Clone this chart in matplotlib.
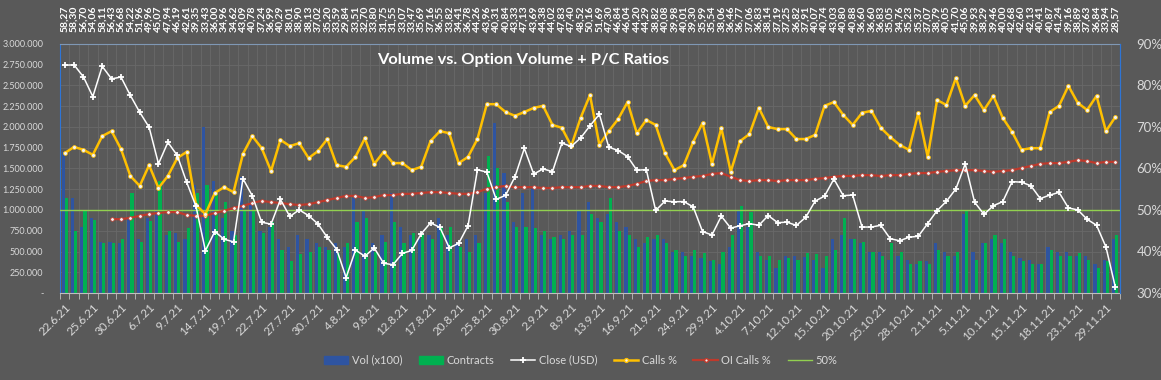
import numpy as np
import matplotlib
matplotlib.use("Agg")
import matplotlib.pyplot as plt
from matplotlib.ticker import FuncFormatter, FixedLocator
from matplotlib.lines import Line2D
from matplotlib.patches import Patch

plt.rcParams["font.family"] = ["Lato", "DejaVu Sans"]

# ---------------- data ----------------
close = [58.27, 58.30, 56.70, 54.06, 58.11, 56.43, 56.68, 54.22, 51.96, 49.96,
         45.07, 47.94, 46.19, 42.61, 39.35, 33.43, 36.00, 34.96, 34.62, 43.09,
         40.78, 37.24, 36.99, 40.29, 38.01, 38.90, 38.13, 37.02, 35.20, 33.59,
         29.84, 33.51, 32.70, 33.80, 31.75, 31.55, 33.07, 33.47, 35.69, 37.16,
         36.55, 33.82, 34.41, 36.78, 44.26, 43.96, 40.31, 40.84, 43.33, 47.13,
         43.69, 44.38, 44.02, 47.83, 47.40, 48.52, 50.16, 51.69, 47.30, 46.84,
         46.04, 44.20, 44.29, 38.82, 40.08, 39.98, 40.01, 39.30, 35.99, 35.54,
         38.06, 36.46, 36.77, 37.06, 36.83, 38.14, 37.19, 37.25, 36.82, 37.91,
         40.07, 40.74, 43.03, 40.80, 40.88, 36.60, 36.60, 36.83, 35.05, 34.76,
         35.23, 35.37, 37.07, 38.79, 40.05, 41.70, 45.06, 39.93, 38.29, 39.46,
         40.00, 42.68, 42.60, 42.13, 40.41, 40.87, 41.24, 39.16, 38.89, 37.63,
         36.84, 33.94, 28.57]

calls_pct = [63.7, 65.2, 64.5, 63.3, 67.8, 69.0, 64.7, 58.2, 55.8, 60.8,
             55.3, 58.2, 62.5, 64.0, 51.2, 49.0, 54.1, 55.5, 54.3, 63.5,
             67.8, 64.9, 59.4, 66.9, 65.4, 66.1, 62.5, 64.2, 67.1, 60.8,
             60.4, 62.8, 67.3, 61.1, 64.0, 61.3, 61.3, 59.6, 60.4, 66.6,
             69.0, 68.5, 61.3, 62.8, 67.1, 75.5, 75.5, 73.6, 72.7, 73.6,
             74.6, 75.1, 70.5, 69.8, 65.4, 72.2, 77.7, 65.7, 69.0, 71.9,
             76.0, 68.5, 71.7, 70.5, 63.7, 59.6, 60.8, 66.4, 71.0, 61.1,
             69.8, 59.2, 66.6, 68.3, 74.6, 70.0, 69.5, 69.5, 67.1, 67.1,
             68.1, 75.1, 76.0, 72.9, 70.5, 73.4, 73.9, 69.8, 67.6, 65.7,
             64.5, 73.4, 62.8, 76.5, 75.3, 81.8, 75.1, 77.7, 74.1, 77.5,
             72.2, 68.8, 64.5, 64.9, 64.9, 73.6, 75.1, 79.9, 75.8, 74.1,
             77.5, 69.0, 72.4]

oi_calls_pct = [np.nan, np.nan, np.nan, np.nan, np.nan, 47.8, 47.8, 48.1, 48.6, 49.0,
                49.3, 49.5, 49.5, 48.8, 48.6, 48.6, 49.3, 49.8, 50.5, 51.0,
                51.7, 52.2, 51.9, 51.7, 51.4, 51.2, 51.4, 51.9, 52.4, 52.9,
                53.4, 53.4, 52.9, 53.1, 53.6, 53.6, 53.9, 53.9, 54.1, 54.3,
                54.3, 54.1, 53.9, 53.9, 54.3, 55.1, 55.5, 55.8, 55.5, 55.5,
                55.5, 55.3, 55.3, 55.5, 55.5, 55.5, 55.8, 55.8, 55.5, 55.5,
                55.8, 56.3, 57.0, 57.2, 57.2, 57.5, 57.7, 58.0, 58.2, 58.7,
                58.9, 58.0, 57.2, 57.0, 57.2, 57.2, 57.0, 57.2, 57.2, 57.2,
                57.5, 57.7, 58.0, 58.2, 58.2, 58.4, 58.4, 58.2, 58.4, 58.4,
                58.7, 58.9, 58.9, 59.2, 59.4, 59.6, 59.6, 59.6, 59.4, 59.2,
                59.4, 59.6, 60.1, 60.6, 61.1, 61.3, 61.3, 61.6, 62.0, 61.8,
                61.3, 61.6, 61.6]

vol_x100 = [1700, 1150, 800, 900, 620, 620, 600, 900, 650, 900,
            1000, 700, 720, 650, 1300, 2000, 1350, 900, 750, 1400,
            1100, 750, 800, 650, 550, 700, 650, 600, 550, 600,
            550, 1150, 1000, 600, 700, 1200, 800, 700, 650, 700,
            900, 700, 600, 650, 700, 1200, 2050, 1450, 850, 1200,
            1250, 700, 650, 700, 750, 1000, 1100, 900, 950, 850,
            800, 650, 600, 650, 650, 500, 500, 450, 420, 380,
            350, 550, 1000, 800, 500, 400, 300, 450, 450, 430,
            400, 300, 650, 700, 650, 600, 500, 500, 400, 450,
            400, 350, 380, 600, 500, 450, 950, 500, 600, 650,
            600, 500, 420, 400, 350, 550, 500, 500, 450, 450,
            350, 400, 650]
vol_x100 = [v * 1000 for v in vol_x100]

contracts = [1150, 750, 1000, 880, 600, 600, 650, 1200, 620, 870,
             1350, 750, 620, 780, 1200, 1300, 1200, 1100, 700, 1000,
             1000, 720, 850, 520, 380, 470, 500, 560, 520, 480,
             600, 850, 900, 500, 620, 850, 600, 720, 700, 650,
             800, 800, 550, 500, 600, 1650, 1500, 1100, 800, 800,
             780, 750, 680, 650, 700, 700, 950, 850, 1150, 750,
             700, 550, 680, 700, 600, 520, 450, 520, 480, 400,
             500, 700, 1050, 980, 450, 450, 400, 420, 400, 480,
             470, 450, 520, 900, 650, 620, 500, 450, 600, 500,
             350, 380, 350, 520, 450, 500, 1000, 400, 600, 700,
             650, 450, 380, 350, 350, 520, 450, 450, 480, 400,
             300, 380, 700]
contracts = [v * 1000 for v in contracts]

dates = ["22.6.21", "25.6.21", "30.6.21", "6.7.21", "9.7.21", "14.7.21", "19.7.21",
         "22.7.21", "27.7.21", "30.7.21", "4.8.21", "9.8.21", "12.8.21", "17.8.21",
         "20.8.21", "25.8.21", "30.8.21", "2.9.21", "8.9.21", "13.9.21", "16.9.21",
         "21.9.21", "24.9.21", "29.9.21", "4.10.21", "7.10.21", "12.10.21", "15.10.21",
         "20.10.21", "25.10.21", "28.10.21", "2.11.21", "5.11.21", "10.11.21",
         "15.11.21", "18.11.21", "23.11.21", "29.11.21"]

n = len(close)
x = np.arange(n)

BG = "#595959"
TXT = "#d9d9d9"

fig = plt.figure(figsize=(11.61, 3.80), dpi=100, facecolor=BG)
ax = fig.add_axes([60 / 1161, 1 - 293 / 380, 1060 / 1161, 249 / 380])
ax.set_facecolor(BG)

bw = 0.34
ax.bar(x - bw / 2, vol_x100, width=bw, color="#2E54A1", zorder=2)
ax.bar(x + bw / 2, contracts, width=bw, color="#00B050", zorder=2)

ax.set_xlim(-0.5, n - 0.5)
ax.set_ylim(0, 3000000)
ax.yaxis.set_major_locator(FixedLocator(np.arange(0, 3000001, 250000)))


def fmt_vol(v, pos):
    if v == 0:
        return "-"
    return f"{int(v):,}".replace(",", ".")


ax.yaxis.set_major_formatter(FuncFormatter(fmt_vol))
ax.tick_params(axis="y", colors=TXT, labelsize=6.5, length=0, pad=12)

for b in np.arange(-0.5, n, 1):
    ax.axvline(b, color="#696969", lw=0.6, zorder=0)
ax.grid(axis="y", color="#696969", lw=0.6, zorder=0)

ax.set_xticks(np.arange(-0.5, n, 1), minor=True)
ax.set_xticks(np.arange(0, n, 3))
ax.set_xticklabels(dates, rotation=45, ha="right", rotation_mode="anchor")
ax.tick_params(axis="x", which="major", length=0, colors=TXT, labelsize=8.5, pad=6)
ax.tick_params(axis="x", which="minor", length=4, color="#bfbfbf", direction="out")

ax.spines["top"].set_color("#7f98b5")
ax.spines["bottom"].set_color("#bfbfbf")
ax.spines["left"].set_color("#2e75d6")
ax.spines["right"].set_color("#2e75d6")

ax2 = ax.twinx()
ax2.set_ylim(30, 90)
ax2.set_yticks(np.arange(30, 91, 10))
ax2.yaxis.set_major_formatter(FuncFormatter(lambda v, p: f"{int(v)}%"))
ax2.tick_params(axis="y", colors=TXT, labelsize=9.5, length=0, pad=12)
ax2.spines["right"].set_color("#2e75d6")
ax2.spines["left"].set_visible(False)
ax2.spines["top"].set_visible(False)
ax2.spines["bottom"].set_visible(False)

ax2.axhline(50, color="#92D050", lw=1.0, zorder=3)
ax2.plot(x, oi_calls_pct, color="#C0392B", lw=1.6, marker="o", ms=2.6,
         mfc="#f2f2f2", mec="#C0392B", mew=0.5, zorder=4)
ax2.plot(x, calls_pct, color="#FFC000", lw=1.8, marker="o", ms=2.8,
         mfc="#f2f2f2", mec="#FFC000", mew=0.5, zorder=5)

ax3 = ax.twinx()
ax3.set_ylim(27.77, 61.1)
ax3.axis("off")
ax3.plot(x, close, color="white", lw=1.1, marker="+", ms=5, mew=1.3, zorder=6)

for i, c in enumerate(close):
    ax.text(i, 1 + 12 / 249, f"{c:.2f}".replace(".", ","), transform=ax.get_xaxis_transform(),
            rotation=90, ha="center", va="bottom", color="white", fontsize=7.5,
            fontweight="bold")

ax.text(0.437, 0.935, "Volume vs. Option Volume + P/C Ratios", transform=ax.transAxes,
        ha="center", va="center", color="white", fontsize=11.8, fontweight="bold",
        zorder=10)

handles = [
    Patch(color="#2E54A1", label="Vol (x100)"),
    Patch(color="#00B050", label="Contracts"),
    Line2D([], [], color="white", lw=1.1, marker="+", ms=5, mew=1.3, label="Close (USD)"),
    Line2D([], [], color="#FFC000", lw=1.8, marker="o", ms=2.8, mfc="#f2f2f2", mec="#FFC000", label="Calls %"),
    Line2D([], [], color="#C0392B", lw=1.6, marker="o", ms=2.6, mfc="#f2f2f2", mec="#C0392B", label="OI Calls %"),
    Line2D([], [], color="#92D050", lw=1.0, label="50%"),
]
fig.legend(handles=handles, loc="center", bbox_to_anchor=(0.5, 1 - 360 / 380), ncol=6,
           frameon=False, fontsize=8, labelcolor=TXT, handlelength=2.2, columnspacing=1.5,
           handletextpad=0.3)

fig.savefig("out.png", dpi=100, facecolor=BG)
